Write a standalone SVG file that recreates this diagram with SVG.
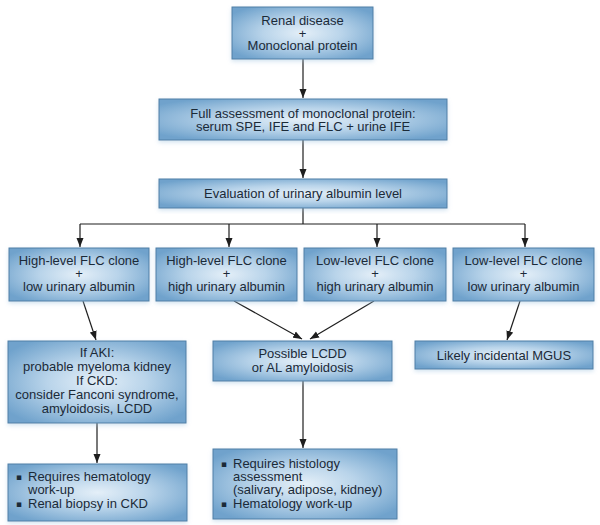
<svg xmlns="http://www.w3.org/2000/svg" width="600" height="525" viewBox="0 0 600 525">
<defs>
  <radialGradient id="g" cx="50%" cy="50%" r="62%">
    <stop offset="0" stop-color="#e4eff8"/>
    <stop offset="0.45" stop-color="#b9d4ea"/>
    <stop offset="1" stop-color="#6fa2cc"/>
  </radialGradient>
  <filter id="sh" x="-10%" y="-10%" width="120%" height="130%">
    <feGaussianBlur in="SourceAlpha" stdDeviation="2"/>
    <feOffset dx="0" dy="2" result="b"/>
    <feFlood flood-color="#9ec3e0" flood-opacity="0.45"/>
    <feComposite in2="b" operator="in"/>
    <feMerge><feMergeNode/><feMergeNode in="SourceGraphic"/></feMerge>
  </filter>
  <marker id="ah" markerUnits="userSpaceOnUse" markerWidth="10" markerHeight="8" refX="9" refY="4" orient="auto">
    <path d="M0,0.5 L9,4 L0,7.5 z" fill="#1e1e1e"/>
  </marker>
</defs>
<style>
  .box { fill: url(#g); stroke: #4f7fa6; stroke-width: 1; filter: url(#sh); }
  .t { font-family: "Liberation Sans", Arial, sans-serif; font-size: 13px; fill: #1b2a38; text-anchor: middle; }
  .l { font-family: "Liberation Sans", Arial, sans-serif; font-size: 13px; fill: #1b2a38; }
  .b { font-family: "DejaVu Sans", "Liberation Sans", sans-serif; font-size: 9px; fill: #1b2a38; }
  .c { stroke: #1e1e1e; stroke-width: 1.2; fill: none; }
  .ca { stroke: #1e1e1e; stroke-width: 1.2; fill: none; marker-end: url(#ah); }
</style>

<g id="connectors">
  <line class="ca" x1="303" y1="59" x2="303" y2="98"/>
  <line class="ca" x1="303" y1="140" x2="303" y2="178"/>
  <line class="c" x1="303" y1="208" x2="303" y2="224"/>
  <line class="c" x1="80" y1="224" x2="525" y2="224"/>
  <line class="ca" x1="80" y1="224" x2="80" y2="247"/>
  <line class="ca" x1="229" y1="224" x2="229" y2="247"/>
  <line class="ca" x1="377" y1="224" x2="377" y2="247"/>
  <line class="ca" x1="525" y1="224" x2="525" y2="247"/>
  <line class="ca" x1="83" y1="301" x2="96" y2="340"/>
  <line class="ca" x1="234" y1="301" x2="302" y2="339"/>
  <line class="ca" x1="374" y1="301" x2="310" y2="339"/>
  <line class="ca" x1="520" y1="301" x2="507" y2="340"/>
  <line class="ca" x1="97" y1="423" x2="97" y2="463"/>
  <line class="ca" x1="303" y1="381" x2="303" y2="448"/>
</g>

<g id="n1">
  <rect class="box" x="232" y="7" width="141" height="52"/>
  <text class="t" x="302.5" y="25">Renal disease</text>
  <text class="t" x="302.5" y="37.5">+</text>
  <text class="t" x="302.5" y="50">Monoclonal protein</text>
</g>

<g id="n2">
  <rect class="box" x="159" y="99" width="288" height="41"/>
  <text class="t" x="303" y="118">Full assessment of monoclonal protein:</text>
  <text class="t" x="303" y="131">serum SPE, IFE and FLC + urine IFE</text>
</g>

<g id="n3">
  <rect class="box" x="159" y="179" width="288" height="29"/>
  <text class="t" x="303" y="198">Evaluation of urinary albumin level</text>
</g>

<g id="nA">
  <rect class="box" x="9" y="248" width="140" height="53"/>
  <text class="t" x="79" y="265">High-level FLC clone</text>
  <text class="t" x="79" y="278">+</text>
  <text class="t" x="79" y="291">low urinary albumin</text>
</g>

<g id="nB">
  <rect class="box" x="156" y="248" width="141" height="53"/>
  <text class="t" x="226.5" y="265">High-level FLC clone</text>
  <text class="t" x="226.5" y="278">+</text>
  <text class="t" x="226.5" y="291">high urinary albumin</text>
</g>

<g id="nC">
  <rect class="box" x="304" y="248" width="142" height="53"/>
  <text class="t" x="375" y="265">Low-level FLC clone</text>
  <text class="t" x="375" y="278">+</text>
  <text class="t" x="375" y="291">high urinary albumin</text>
</g>

<g id="nD">
  <rect class="box" x="453" y="248" width="141" height="53"/>
  <text class="t" x="523.5" y="265">Low-level FLC clone</text>
  <text class="t" x="523.5" y="278">+</text>
  <text class="t" x="523.5" y="291">low urinary albumin</text>
</g>

<g id="nE">
  <rect class="box" x="8" y="341" width="178" height="82"/>
  <text class="t" x="97" y="357">If AKI:</text>
  <text class="t" x="97" y="371">probable myeloma kidney</text>
  <text class="t" x="97" y="385">If CKD:</text>
  <text class="t" x="97" y="399">consider Fanconi syndrome,</text>
  <text class="t" x="97" y="413">amyloidosis, LCDD</text>
</g>

<g id="nF">
  <rect class="box" x="213" y="341" width="179" height="40"/>
  <text class="t" x="302.5" y="358">Possible LCDD</text>
  <text class="t" x="302.5" y="372">or AL amyloidosis</text>
</g>

<g id="nG">
  <rect class="box" x="415" y="341" width="178" height="28"/>
  <text class="t" x="504" y="360">Likely incidental MGUS</text>
</g>

<g id="nH">
  <rect class="box" x="8" y="464" width="179" height="57"/>
  <text class="b" x="16" y="480">▪</text>
  <text class="l" x="28" y="481">Requires hematology</text>
  <text class="l" x="28" y="494">work-up</text>
  <text class="b" x="16" y="507">▪</text>
  <text class="l" x="28" y="508">Renal biopsy in CKD</text>
</g>

<g id="nI">
  <rect class="box" x="213" y="449" width="184" height="70"/>
  <text class="b" x="221" y="467">▪</text>
  <text class="l" x="233" y="468">Requires histology</text>
  <text class="l" x="233" y="481">assessment</text>
  <text class="l" x="233" y="494">(salivary, adipose, kidney)</text>
  <text class="b" x="221" y="507">▪</text>
  <text class="l" x="233" y="508">Hematology work-up</text>
</g>
</svg>
